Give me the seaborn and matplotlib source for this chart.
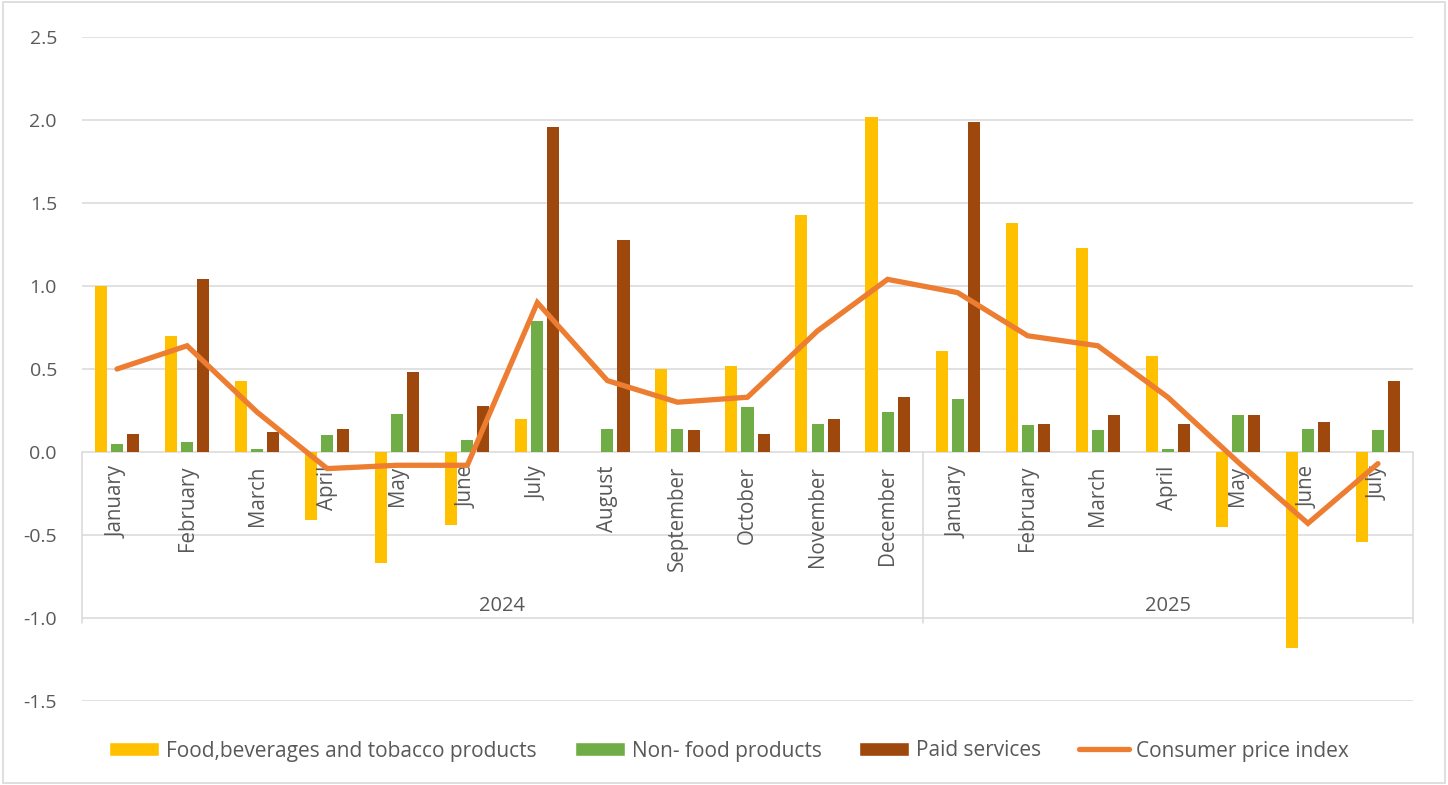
import numpy as np
import pandas as pd
import matplotlib
matplotlib.use("Agg")
import matplotlib.pyplot as plt
from matplotlib.patches import Patch, Rectangle
from matplotlib.lines import Line2D
import seaborn as sns

# ---- data ----
periods = ["2024-01", "2024-02", "2024-03", "2024-04", "2024-05", "2024-06",
           "2024-07", "2024-08", "2024-09", "2024-10", "2024-11", "2024-12",
           "2025-01", "2025-02", "2025-03", "2025-04", "2025-05", "2025-06", "2025-07"]
month_labels = ["January", "February", "March", "April", "May", "June", "July",
                "August", "September", "October", "November", "December",
                "January", "February", "March", "April", "May", "June", "July"]
years = ["2024", "2025"]
series_names = ["Food,beverages and tobacco products", "Non- food products",
                "Paid services", "Consumer price index"]

food = [1.00, 0.70, 0.43, -0.41, -0.67, -0.44, 0.20, 0.00, 0.50, 0.52, 1.43, 2.02,
        0.61, 1.38, 1.23, 0.58, -0.45, -1.18, -0.54]
nonfood = [0.05, 0.06, 0.02, 0.10, 0.23, 0.07, 0.79, 0.14, 0.14, 0.27, 0.17, 0.24,
           0.32, 0.16, 0.13, 0.02, 0.22, 0.14, 0.13]
paid = [0.11, 1.04, 0.12, 0.14, 0.48, 0.28, 1.96, 1.28, 0.13, 0.11, 0.20, 0.33,
        1.99, 0.17, 0.22, 0.17, 0.22, 0.18, 0.43]
cpi = [0.50, 0.64, 0.24, -0.10, -0.08, -0.08, 0.90, 0.43, 0.30, 0.33, 0.73, 1.04,
       0.96, 0.70, 0.64, 0.33, -0.06, -0.43, -0.07]

colors = ["#FFC000", "#70AD47", "#9E480E", "#ED7D31"]
grid_c = "#D9D9D9"
text_c = "#595959"

df = pd.DataFrame({
    "period": periods * 3,
    "value": food + nonfood + paid,
    "series": [series_names[0]] * 19 + [series_names[1]] * 19 + [series_names[2]] * 19,
})

sns.set_theme(style="white")
plt.rcParams["font.family"] = ["Open Sans", "DejaVu Sans"]

W, H = 1448, 785
fig = plt.figure(figsize=(W / 100, H / 100), dpi=100)
ax = fig.add_axes([82 / W, (H - 701) / H, (1413 - 82) / W, (701 - 37) / H])

sns.barplot(data=df, x="period", y="value", hue="series", order=periods,
            hue_order=series_names[:3], palette=colors[:3], saturation=1,
            width=0.69, gap=0.25, errorbar=None, linewidth=0, legend=False,
            ax=ax, zorder=3)
ax.plot(np.arange(len(periods)), cpi, color=colors[3], lw=3.8,
        solid_capstyle="round", solid_joinstyle="miter", zorder=4)

ax.set_xlim(-0.5, len(periods) - 0.5)
ax.set_ylim(-1.5, 2.5)
yt = np.arange(-1.5, 2.51, 0.5)
ax.set_yticks(yt)
ax.set_yticklabels([f"{v:.1f}" for v in yt], color=text_c, fontsize=14)
ax.tick_params(axis="y", length=0, pad=18)
ax.set_xticks([])
ax.set_xlabel("")
ax.set_ylabel("")
for s in ax.spines.values():
    s.set_visible(False)
for v in yt:
    ax.axhline(v, color=grid_c, lw=1.1, zorder=1)

# category labels
for i, m in enumerate(month_labels):
    ax.annotate(m, xy=(i, 0), xytext=(0, -10), textcoords="offset points",
                rotation=90, ha="center", va="top", fontsize=14.8, color=text_c)
ax.text(5.5, -0.93, years[0], ha="center", va="center", fontsize=14.5, color=text_c)
ax.text(15.0, -0.93, years[1], ha="center", va="center", fontsize=14.5, color=text_c)
for xd in [-0.5, 11.5, 18.5]:
    ax.plot([xd, xd], [0, -1.03], color=grid_c, lw=1.1, clip_on=False, zorder=1)

# legend
handles = [Patch(facecolor=colors[0]), Patch(facecolor=colors[1]),
           Patch(facecolor=colors[2]),
           Line2D([0], [0], color=colors[3], lw=3.8, solid_capstyle="round")]
leg = fig.legend(handles, series_names, loc="center", bbox_to_anchor=(729 / W, 1 - 751 / H),
                 ncol=4, frameon=False, fontsize=15, handlelength=2.4, handleheight=0.67,
                 handletextpad=0.34, columnspacing=1.8, labelcolor=text_c)

fig.patches.append(Rectangle((0.002, 0.002), 0.996, 0.996, transform=fig.transFigure,
                             fill=False, edgecolor=grid_c, lw=1.2))

fig.savefig("out.png", dpi=100, facecolor="white")
